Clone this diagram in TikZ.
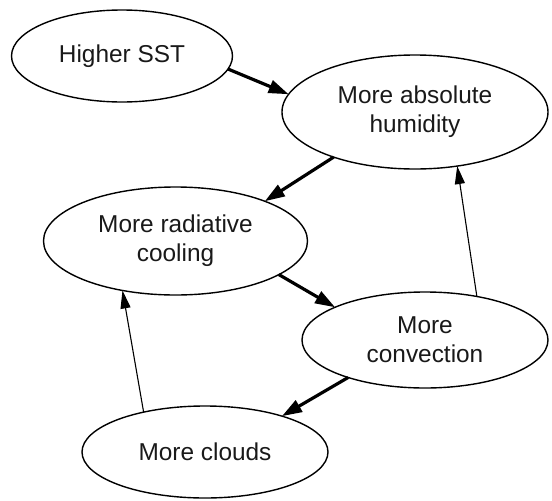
\documentclass[tikz,border=0pt]{standalone}
\usepackage{fontspec}
\setmainfont{Liberation Sans}
\usetikzlibrary{shapes.geometric,arrows.meta}
\begin{document}
\begin{tikzpicture}[x=1pt,y=-1pt,
  bub/.style={ellipse,draw=black,line width=1.4pt,inner sep=0pt,outer sep=0pt,align=center,
    font=\fontsize{24.4}{29.3}\selectfont,text=black!90},
  thickarr/.style={line width=3.2pt,-{Triangle[length=20pt,width=13pt]}},
  thinarr/.style={line width=1.1pt,-{Triangle[length=18pt,width=10pt]}}]
\useasboundingbox (0,0) rectangle (552,501);
\node[bub,minimum width=221pt,minimum height=92pt] (sst) at (122,56) {Higher SST};
\node[bub,minimum width=266pt,minimum height=114pt] (hum) at (415,112) {More absolute\\humidity};
\node[bub,minimum width=264pt,minimum height=108pt] (cool) at (175.5,241) {More radiative\\cooling};
\node[bub,minimum width=246pt,minimum height=96pt] (conv) at (425,340) {More\\convection};
\node[bub,minimum width=246pt,minimum height=92pt] (cld) at (205,452) {More clouds};
\draw[thickarr] (sst.-7.9) -- (hum.172.8);
\draw[thickarr] (hum.209.5) -- (cool.24);
\draw[thickarr] (cool.-18) -- (conv.160.5);
\draw[thickarr] (conv.206.3) -- (cld.25);
\draw[thinarr] (cld.147.8) -- (cool.223.6);
\draw[thinarr] (conv.40.9) -- (hum.-52.5);
\end{tikzpicture}
\end{document}
